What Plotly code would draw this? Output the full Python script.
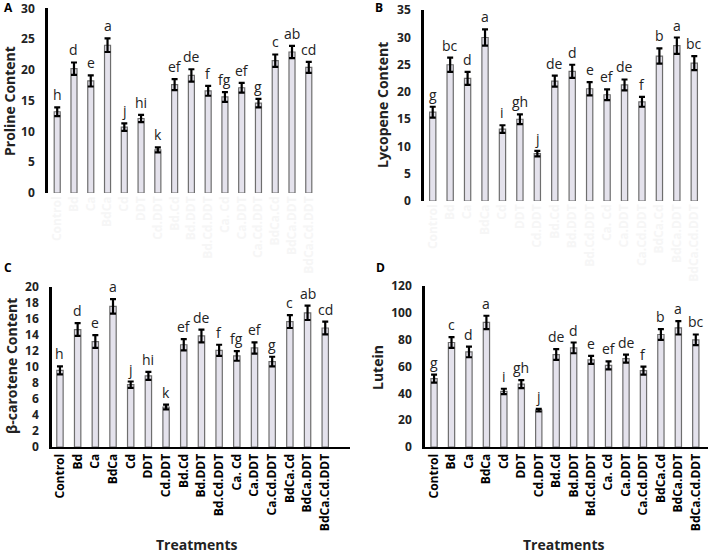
import plotly.graph_objects as go

treatments = ['Control', 'Bd', 'Ca', 'BdCa', 'Cd', 'DDT', 'Cd.DDT', 'Bd.Cd', 'Bd.DDT',
              'Bd.Cd.DDT', 'Ca. Cd', 'Ca.DDT', 'Ca.Cd.DDT', 'BdCa.Cd', 'BdCa.DDT', 'BdCa.Cd.DDT']

proline = [13.2, 20.2, 18.2, 24.0, 10.7, 12.1, 7.0, 17.6, 19.1, 16.6, 15.6, 17.1, 14.6, 21.5, 22.9, 20.4]
proline_err = [0.7, 1.0, 0.9, 1.1, 0.6, 0.6, 0.4, 0.9, 1.0, 0.8, 0.8, 0.8, 0.7, 1.0, 1.0, 0.9]
proline_sig = ['h', 'd', 'e', 'a', 'j', 'hi', 'k', 'ef', 'de', 'f', 'fg', 'ef', 'g', 'c', 'ab', 'cd']

lycopene = [16.3, 25.0, 22.5, 30.0, 13.2, 15.0, 8.7, 22.0, 23.8, 20.6, 19.5, 21.3, 18.2, 26.6, 28.5, 25.3]
lycopene_err = [1.0, 1.3, 1.2, 1.5, 0.7, 0.9, 0.5, 1.0, 1.2, 1.2, 1.0, 1.0, 0.9, 1.4, 1.5, 1.3]
lycopene_sig = ['g', 'bc', 'd', 'a', 'i', 'gh', 'j', 'de', 'd', 'e', 'ef', 'de', 'f', 'b', 'a', 'bc']

carotene = [9.6, 14.7, 13.2, 17.6, 7.8, 8.9, 5.0, 12.8, 13.9, 12.1, 11.4, 12.4, 10.7, 15.7, 16.8, 14.9]
carotene_err = [0.5, 0.8, 0.8, 0.9, 0.4, 0.5, 0.3, 0.7, 0.8, 0.7, 0.6, 0.7, 0.6, 0.8, 0.9, 0.8]
carotene_sig = ['h', 'd', 'e', 'a', 'j', 'hi', 'k', 'ef', 'de', 'f', 'fg', 'ef', 'g', 'c', 'ab', 'cd']

lutein = [51, 78, 71, 93, 41.5, 47, 27.5, 69, 74, 65, 61, 66, 57, 84, 89, 80]
lutein_err = [3, 4, 4, 5, 2, 3, 1, 4, 4, 3, 3, 3, 3, 4, 5, 4]
lutein_sig = ['g', 'c', 'd', 'a', 'i', 'gh', 'j', 'de', 'd', 'e', 'ef', 'de', 'f', 'b', 'a', 'bc']

W, H = 708, 555
FONT = 'Open Sans'


def px(x):
    return x / W


def py(y):
    return 1 - y / H


# panel definitions: data, axis ids, pixel boxes, y range
panels = [
    dict(vals=proline, err=proline_err, sig=proline_sig, xa='x', ya='y',
         xdom=(48, 318), ydom=(193, 8), yr=(0, 30.05), dtick=5, xr=(-0.55, 15.55),
         bottom=False, title='Proline Content', tpos=(9, 101), letter='A', lpos=(8, 8)),
    dict(vals=lycopene, err=lycopene_err, sig=lycopene_sig, xa='x2', ya='y2',
         xdom=(424, 703), ydom=(201, 10), yr=(0, 35.05), dtick=5, xr=(-0.5, 15.5),
         bottom=False, title='Lycopene Content', tpos=(382, 105), letter='B', lpos=(379, 8)),
    dict(vals=carotene, err=carotene_err, sig=carotene_sig, xa='x3', ya='y3',
         xdom=(52, 350), ydom=(447, 287), yr=(0, 20.03), dtick=2, xr=(-0.45, 16.4),
         bottom=True, title='β-carotene Content', tpos=(11, 366), letter='C', lpos=(8, 267)),
    dict(vals=lutein, err=lutein_err, sig=lutein_sig, xa='x4', ya='y4',
         xdom=(425, 708), ydom=(447, 286), yr=(0, 120.2), dtick=20, xr=(-0.52, 15.7),
         bottom=True, title='Lutein', tpos=(377, 367), letter='D', lpos=(380, 267)),
]

fig = go.Figure()
layout = {}
annotations = []

for i, p in enumerate(panels):
    fig.add_trace(go.Bar(
        x=treatments, y=p['vals'], xaxis=p['xa'], yaxis=p['ya'],
        width=0.36,
        marker=dict(color='#e4e2ec', line=dict(color='#6e6e6e', width=1.2)),
        error_y=dict(type='data', array=p['err'], color='black', thickness=2.2, width=3),
        showlegend=False,
    ))
    # significance letters sit just above each error bar
    for t, v, e, s in zip(treatments, p['vals'], p['err'], p['sig']):
        annotations.append(dict(
            x=t, y=v + e, xref=p['xa'], yref=p['ya'], text=s, showarrow=False,
            yanchor='bottom', xanchor='center', yshift=1,
            font=dict(family=FONT, size=14, color='#222222')))
    n = '' if i == 0 else str(i + 1)
    layout['xaxis' + n] = dict(
        domain=[px(p['xdom'][0]), px(p['xdom'][1])], anchor=p['ya'],
        range=list(p['xr']), type='category', automargin=False,
        showline=p['bottom'], linecolor='black', linewidth=2,
        showticklabels=True, tickangle=-90, ticks='',
        tickfont=dict(family=FONT, size=12, color='black' if p['bottom'] else '#f6f6f6',
                      weight='bold'),
        showgrid=False, zeroline=False, fixedrange=True,
    )
    layout['yaxis' + n] = dict(
        domain=[py(p['ydom'][0]), py(p['ydom'][1])], anchor=p['xa'],
        range=list(p['yr']), dtick=p['dtick'], automargin=False,
        showline=True, linecolor='black', linewidth=2.5,
        ticks='', ticklabelstandoff=8, ticklabeloverflow='allow',
        tickfont=dict(family=FONT, size=12, color='#222222', weight='bold'),
        showgrid=False, zeroline=False, fixedrange=True,
    )
    annotations.append(dict(
        text=f"<b>{p['title']}</b>", x=px(p['tpos'][0]), y=py(p['tpos'][1]),
        xref='paper', yref='paper', textangle=-90, showarrow=False,
        font=dict(family=FONT, size=14, color='#222222'),
        xanchor='center', yanchor='middle'))
    annotations.append(dict(
        text=f"<b>{p['letter']}</b>", x=px(p['lpos'][0]), y=py(p['lpos'][1]),
        xref='paper', yref='paper', showarrow=False,
        font=dict(family=FONT, size=12, color='black'),
        xanchor='center', yanchor='middle'))

for cx in (197, 564):
    annotations.append(dict(
        text='<b>Treatments</b>', x=px(cx), y=py(544), xref='paper', yref='paper',
        showarrow=False, font=dict(family=FONT, size=14, color='#222222'),
        xanchor='center', yanchor='middle'))

fig.update_layout(
    width=W, height=H,
    margin=dict(l=0, r=0, t=0, b=0),
    paper_bgcolor='white', plot_bgcolor='white',
    bargap=0.6,
    annotations=annotations,
    **layout,
)

# drop the browser's default 8px body margin so the figure fills the window
fig.write_html("out.html", config={'displayModeBar': False},
               post_script="document.body.style.margin='0';")
